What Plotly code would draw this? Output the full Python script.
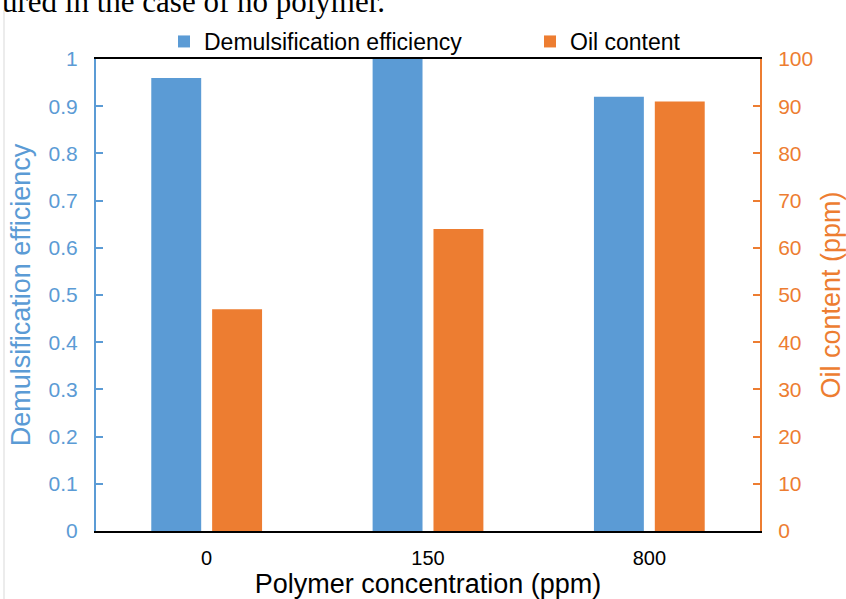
import plotly.graph_objects as go

categories = ["0", "150", "800"]
demuls_eff = [0.96, 1.0, 0.92]
oil_content = [47, 64, 91]
left_ticks = [0, 0.1, 0.2, 0.3, 0.4, 0.5, 0.6, 0.7, 0.8, 0.9, 1]
left_ticklabels = ["0", "0.1", "0.2", "0.3", "0.4", "0.5", "0.6", "0.7", "0.8", "0.9", "1"]
right_ticks = [0, 10, 20, 30, 40, 50, 60, 70, 80, 90, 100]

BLUE = "#5B9BD5"
ORANGE = "#ED7D31"
FONT = "Liberation Sans, Arial, sans-serif"

fig = go.Figure()
fig.add_trace(go.Bar(x=categories, y=demuls_eff, name="Demulsification efficiency",
                     marker=dict(color=BLUE, line=dict(width=0)), offsetgroup="a", yaxis="y",
                     legend="legend"))
fig.add_trace(go.Bar(x=categories, y=oil_content, name="Oil content",
                     marker=dict(color=ORANGE, line=dict(width=0)), offsetgroup="b", yaxis="y2",
                     legend="legend2"))

legend_common = dict(orientation="h", xanchor="left", y=1 - 4 / 472, yanchor="bottom",
                     font=dict(size=23, color="black"), itemwidth=30, bgcolor="rgba(0,0,0,0)")

fig.update_layout(
    width=846, height=599,
    margin=dict(l=96, r=86, t=59, b=68, autoexpand=False),
    paper_bgcolor="white", plot_bgcolor="white",
    barmode="group", bargap=0.45, bargroupgap=0.18,
    font=dict(family=FONT, size=20, color="black"),
    showlegend=True,
    legend=dict(x=(164 - 96) / 664, **legend_common),
    legend2=dict(x=(530 - 96) / 664, **legend_common),
    xaxis=dict(showline=True, linecolor="black", linewidth=1.5, mirror=True, ticks="",
               tickfont=dict(size=20, color="black"), showgrid=False, ticklabelstandoff=8,
               title=dict(text="Polymer concentration (ppm)", font=dict(size=27, color="black"), standoff=0)),
    yaxis=dict(range=[0, 1], tickvals=left_ticks, ticktext=left_ticklabels,
               showline=True, linecolor=BLUE, linewidth=2, ticks="inside", ticklen=7,
               tickcolor=BLUE, tickwidth=1.5, showgrid=False, zeroline=False,
               tickfont=dict(size=21, color=BLUE), ticklabelstandoff=12,
               title=dict(text="Demulsification efficiency", font=dict(size=27, color=BLUE), standoff=10)),
    yaxis2=dict(range=[0, 100], tickvals=right_ticks, overlaying="y", side="right",
                showline=True, linecolor=ORANGE, linewidth=2, ticks="inside", ticklen=7,
                tickcolor=ORANGE, tickwidth=1.5, showgrid=False, zeroline=False,
                tickfont=dict(size=21, color=ORANGE), ticklabelstandoff=12,
                title=dict(text="Oil content (ppm)", font=dict(size=27, color=ORANGE), standoff=11)),
)

# top caption text fragment (cut off at the top)
fig.add_annotation(text="ured in the case of no polymer.", xref="paper", yref="paper",
                   x=-0.145, xanchor="left", y=(531 - 21) / 472, yanchor="bottom",
                   showarrow=False, font=dict(family="Liberation Serif, Times New Roman, serif",
                                              size=31, color="black"))
# frame line at the left
fig.add_shape(type="line", xref="paper", yref="paper", x0=(4 - 96) / 664, x1=(4 - 96) / 664,
              y0=-0.15, y1=(531 - 10) / 472, line=dict(color="#d9d9d9", width=1))

fig.write_html("out.html", config={"displayModeBar": False},
               post_script="document.body.style.margin='0';")
